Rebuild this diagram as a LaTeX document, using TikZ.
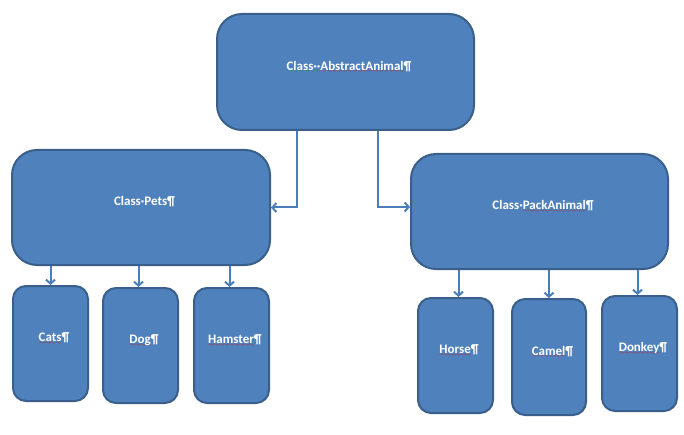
\documentclass[tikz,border=0pt]{standalone}
\usepackage{fontspec}
\setmainfont{Carlito}
\usetikzlibrary{arrows.meta}
\definecolor{boxfill}{HTML}{4F81BD}
\definecolor{boxline}{HTML}{3A5F8B}
\definecolor{connc}{HTML}{4A7EBB}
\definecolor{spellred}{HTML}{E00000}
\definecolor{spellgreen}{HTML}{00A000}
\font\wavyfont=lasy6
\newcommand\wavyline[2]{\setbox0\hbox{#2}\rlap{\textcolor{#1}{\lower2.4pt\hbox to\wd0{\xleaders\hbox{\wavyfont\char58}\hfil}}}\box0}
\newcommand\redwave[1]{\wavyline{spellred}{#1}}
\newcommand\greenwave[1]{\wavyline{spellgreen}{#1}}
\tikzset{
  classbox/.style={draw=boxline, fill=boxfill, line width=2pt, rounded corners=25pt,
    text=white, font=\fontsize{13}{15}\selectfont\bfseries,
    text height=9pt, text depth=12.6pt, inner sep=0pt,
    execute at begin node=\hspace*{7pt}},
  bigbox/.style={classbox, minimum width=257pt, minimum height=115pt},
  smallbox/.style={classbox, rounded corners=13pt, minimum width=75pt, minimum height=115pt},
  conn/.style={draw=connc, line width=2pt, -{Straight Barb[length=4pt,width=9pt]}}
}
\begin{document}
\begin{tikzpicture}[x=1pt,y=-1pt]
\useasboundingbox[fill=white] (0,0) rectangle (684,435);
\node[bigbox, minimum height=116pt] (top) at (345.5,72) {\greenwave{Class··}\redwave{AbstractAnimal}¶};
\node[bigbox, minimum width=258pt] (pets) at (141,207.5) {Class·Pets¶};
\node[bigbox] (pack) at (539.5,211.5) {Class·\redwave{PackAnimal}¶};
\node[smallbox] (cats) at (50.5,343.5) {\redwave{Cats}¶};
\node[smallbox] (dog) at (140.5,345.5) {\redwave{Dog}¶};
\node[smallbox] (hamster) at (231.5,345.5) {\redwave{Hamster}¶};
\node[smallbox] (horse) at (455.5,355.5) {\redwave{Horse}¶};
\node[smallbox, minimum width=74pt, minimum height=116pt] (camel) at (549,357) {\redwave{Camel}¶};
\node[smallbox] (donkey) at (639.5,353.5) {\redwave{Donkey}¶};
\draw[conn] ([xshift=-48.5pt]top.south) |- (pets.east);
\draw[conn] ([xshift=32.5pt]top.south) |- ([yshift=4.5pt]pack.west);
\draw[conn] (pets.south -| cats.north) -- (cats.north);
\draw[conn] ([xshift=-2pt]pets.south -| dog.north) -- ([xshift=-2pt]dog.north);
\draw[conn] ([xshift=-2pt]pets.south -| hamster.north) -- ([xshift=-2pt]hamster.north);
\draw[conn] ([xshift=3pt]pack.south -| horse.north) -- ([xshift=3pt]horse.north);
\draw[conn] (pack.south -| camel.north) -- (camel.north);
\draw[conn] ([xshift=-2pt]pack.south -| donkey.north) -- ([xshift=-2pt]donkey.north);
\end{tikzpicture}
\end{document}
